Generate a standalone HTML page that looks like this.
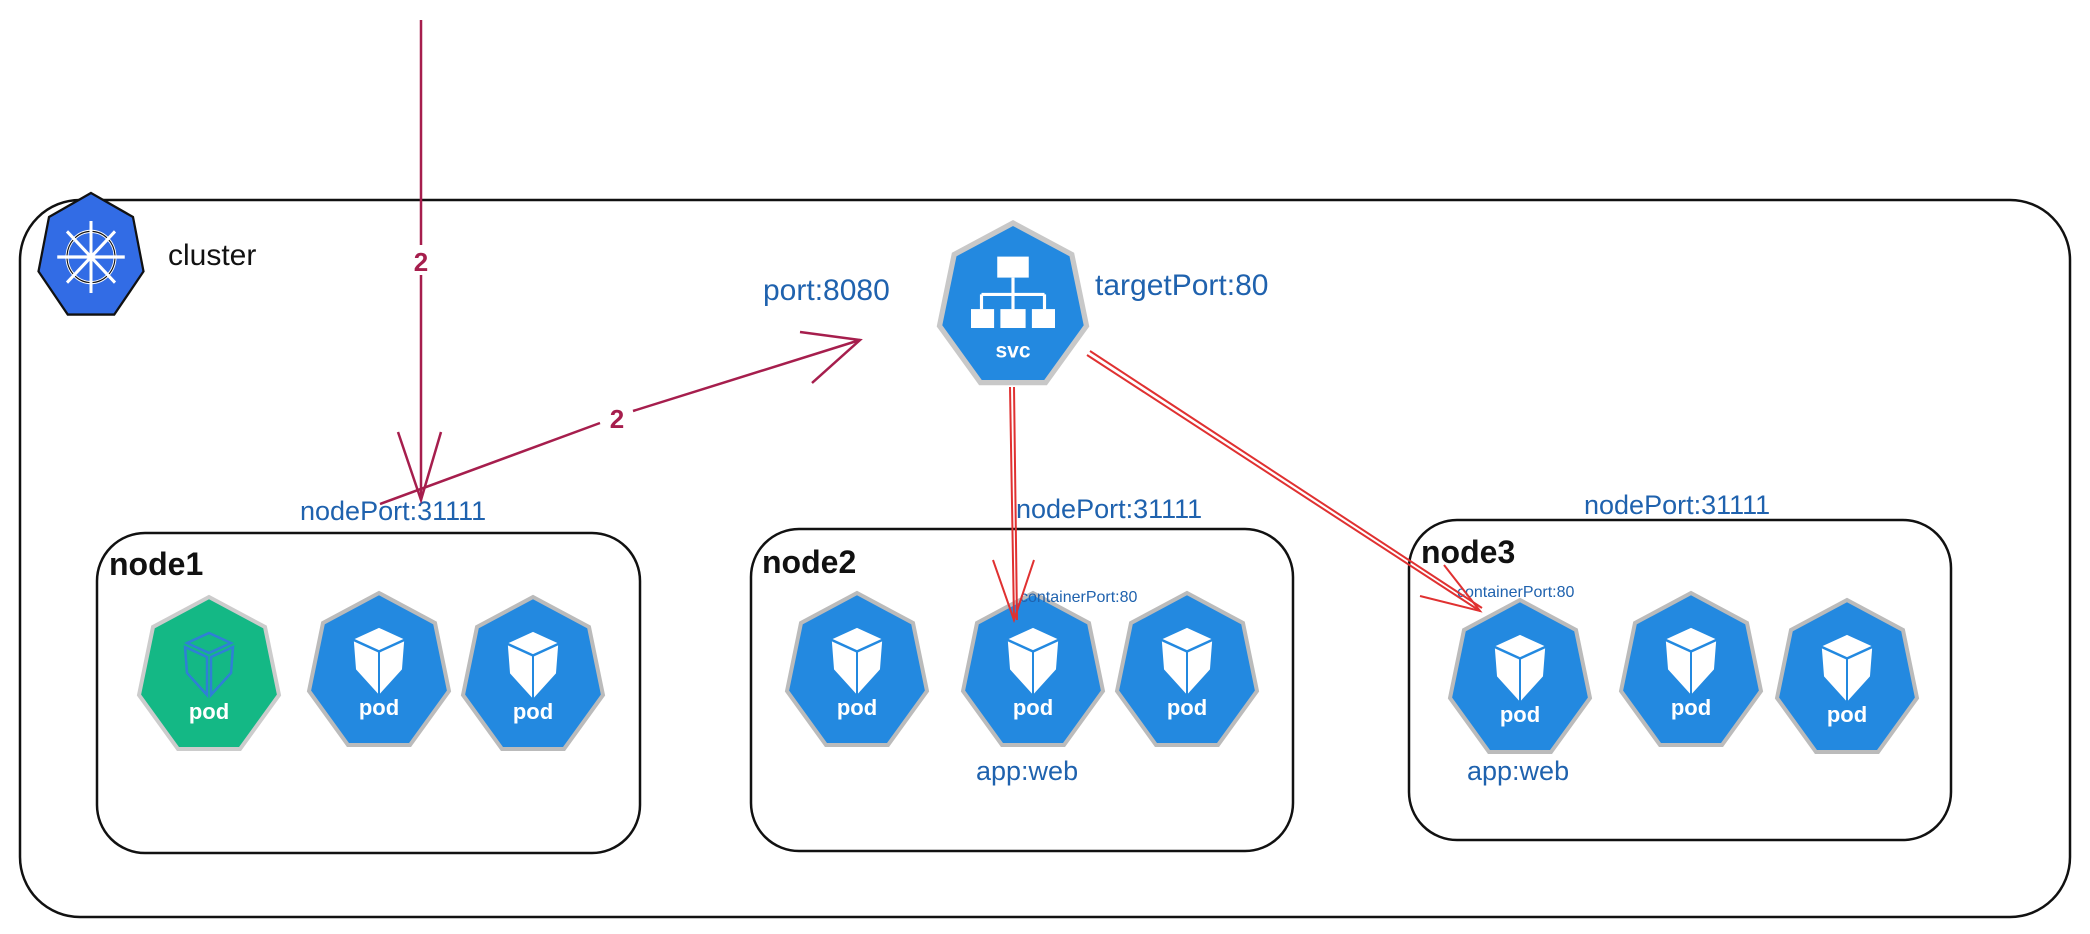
<!DOCTYPE html>
<html><head><meta charset="utf-8"><style>
html,body{margin:0;padding:0;background:#fff;}
svg{display:block;}
text{font-family:"Liberation Sans",sans-serif;}
</style></head><body>
<svg width="2090" height="934" viewBox="0 0 2090 934" xmlns="http://www.w3.org/2000/svg">
<defs>
<g id="hep"><polygon points="0,-80 56,-50 70,18 31,72 -31,72 -70,18 -56,-50" stroke="#bbb" stroke-width="4"/></g>
<g id="cube" fill="#fff" stroke="#fff" stroke-width="2">
<polygon points="-22,-34 0,-44 22,-34 0,-24"/>
<polygon points="-24,-30 -2,-20 -2,18 -22,-4"/>
<polygon points="2,-20 24,-30 22,-4 2,18"/>
</g>
</defs>
<rect x="20" y="200" width="2050" height="717" rx="60" fill="none" stroke="#111" stroke-width="2.5"/>
<rect x="97" y="533" width="543" height="320" rx="48" fill="none" stroke="#111" stroke-width="2.5"/>
<rect x="751" y="529" width="542" height="322" rx="48" fill="none" stroke="#111" stroke-width="2.5"/>
<rect x="1409" y="520" width="542" height="320" rx="48" fill="none" stroke="#111" stroke-width="2.5"/>

<!-- cluster icon -->
<g transform="translate(91,257) scale(0.75,0.8)"><polygon points="0,-80 56,-50 70,18 31,72 -31,72 -70,18 -56,-50" fill="#326ce5" stroke="#111" stroke-width="3"/>
<circle cx="0" cy="0" r="32" fill="none" stroke="#fff" stroke-width="4"/><circle cx="0" cy="0" r="32" fill="none" stroke="#111" stroke-width="1.5"/>
<path d="M0,-45V45M-45,0H45M-32,-32L32,32M32,-32L-32,32" stroke="#fff" stroke-width="4"/></g>
<text x="168" y="265" font-size="30" fill="#111">cluster</text>

<!-- svc -->
<g transform="translate(1013,307) scale(1.05,1.05)"><polygon points="0,-80 56,-50 70,18 31,72 -31,72 -70,18 -56,-50" fill="#2389e0" stroke="#c8c8c8" stroke-width="5"/>
<rect x="-15" y="-48" width="30" height="20" fill="#fff"/><path d="M0,-28V-12M-30,-12H30M-30,-12V2M0,-12V2M30,-12V2" stroke="#fff" stroke-width="3" fill="none"/>
<rect x="-40" y="2" width="22" height="18" fill="#fff"/><rect x="-12" y="2" width="24" height="18" fill="#fff"/><rect x="18" y="2" width="22" height="18" fill="#fff"/>
<text x="0" y="48" font-size="20" fill="#fff" text-anchor="middle" font-weight="bold">svc</text></g>
<text x="763" y="300" font-size="30" fill="#1f62ae">port:8080</text>
<text x="1095" y="295" font-size="30" fill="#1f62ae">targetPort:80</text>

<!-- pods -->
<g fill="#2389e0">
<g transform="translate(209,677)"><polygon points="0,-80 56,-50 70,18 31,72 -31,72 -70,18 -56,-50" fill="#14b885" stroke="#ccc" stroke-width="4"/><g fill="none" stroke="#2f7fd6" stroke-width="2.5"><polygon points="-22,-34 0,-44 22,-34 0,-24"/><polygon points="-24,-30 -2,-20 -2,18 -22,-4"/><polygon points="2,-20 24,-30 22,-4 2,18"/></g><text y="42" font-size="22" fill="#fff" text-anchor="middle" font-weight="bold">pod</text></g>
<g transform="translate(379,673)"><use href="#hep"/><use href="#cube"/><text y="42" font-size="22" fill="#fff" text-anchor="middle" font-weight="bold">pod</text></g>
<g transform="translate(533,677)"><use href="#hep"/><use href="#cube"/><text y="42" font-size="22" fill="#fff" text-anchor="middle" font-weight="bold">pod</text></g>
<g transform="translate(857,673)"><use href="#hep"/><use href="#cube"/><text y="42" font-size="22" fill="#fff" text-anchor="middle" font-weight="bold">pod</text></g>
<g transform="translate(1033,673)"><use href="#hep"/><use href="#cube"/><text y="42" font-size="22" fill="#fff" text-anchor="middle" font-weight="bold">pod</text></g>
<g transform="translate(1187,673)"><use href="#hep"/><use href="#cube"/><text y="42" font-size="22" fill="#fff" text-anchor="middle" font-weight="bold">pod</text></g>
<g transform="translate(1520,680)"><use href="#hep"/><use href="#cube"/><text y="42" font-size="22" fill="#fff" text-anchor="middle" font-weight="bold">pod</text></g>
<g transform="translate(1691,673)"><use href="#hep"/><use href="#cube"/><text y="42" font-size="22" fill="#fff" text-anchor="middle" font-weight="bold">pod</text></g>
<g transform="translate(1847,680)"><use href="#hep"/><use href="#cube"/><text y="42" font-size="22" fill="#fff" text-anchor="middle" font-weight="bold">pod</text></g>
</g>

<text x="109" y="575" font-size="32" fill="#111" font-weight="bold">node1</text>
<text x="762" y="573" font-size="32" fill="#111" font-weight="bold">node2</text>
<text x="1421" y="563" font-size="32" fill="#111" font-weight="bold">node3</text>

<text x="300" y="520" font-size="27" fill="#1f62ae">nodePort:31111</text>
<text x="1016" y="518" font-size="27" fill="#1f62ae">nodePort:31111</text>
<text x="1584" y="514" font-size="27" fill="#1f62ae">nodePort:31111</text>
<text x="1020" y="602" font-size="16" fill="#1f62ae">containerPort:80</text>
<text x="1457" y="597" font-size="16" fill="#1f62ae">containerPort:80</text>
<text x="976" y="780" font-size="27" fill="#1f62ae">app:web</text>
<text x="1467" y="780" font-size="27" fill="#1f62ae">app:web</text>

<!-- magenta arrows -->
<g stroke="#a61e4d" stroke-width="2.5" fill="none">
<path d="M421,20V245M421,275V500"/>
<path d="M398,432L421,500L441,432"/>
<path d="M380,504L600,423M633,411L860,340"/>
<path d="M800,332L860,340L812,383"/>
</g>
<text x="421" y="271" font-size="26" fill="#a61e4d" text-anchor="middle" font-weight="bold">2</text>
<text x="617" y="428" font-size="26" fill="#a61e4d" text-anchor="middle" font-weight="bold">2</text>

<!-- red arrows -->
<g stroke="#e03131" stroke-width="2" fill="none">
<path d="M1010,387L1014,620M1014,387L1017,620"/>
<path d="M993,560L1014,620L1034,560"/>
<path d="M1087,355L1480,611M1090,351L1482,608"/>
<path d="M1420,596L1480,611L1444,565"/>
</g>
</svg>
</body></html>
